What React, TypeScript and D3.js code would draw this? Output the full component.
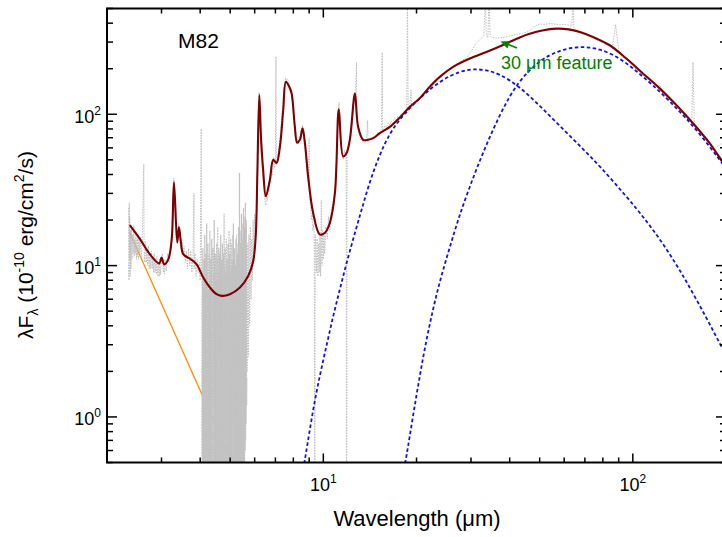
import React from 'react';
import * as d3 from 'd3';

const W = 722;
const H = 537;
const PL = 107, PR = 726, PT = 8.5, PB = 462.5;

// ---- axis ticks ----
const xTickMajor = [10, 100];
const xTickExp = ['1', '2'];
const xTickMinor = [2, 3, 4, 5, 6, 7, 8, 9, 20, 30, 40, 50, 60, 70, 80, 90, 200];
const yTickMajor = [1, 10, 100];
const yTickExp = ['0', '1', '2'];
const yTickMinor = [0.5, 0.6, 0.7, 0.8, 0.9, 2, 3, 4, 5, 6, 7, 8, 9, 20, 30, 40, 50, 60, 70, 80, 90, 200, 300, 400, 500];

// ---- model: total fit (dark red) [wavelength um, lambda F_lambda] ----
const totalModel: [number, number][] = [
  [2.37, 18.5], [2.56, 14.9], [2.75, 11.9], [2.95, 10.35], [3.0, 11.3], [3.06, 10.2], [3.155, 11.0],
  [3.236, 14.9], [3.292, 35.5], [3.373, 14.2], [3.416, 17.9], [3.467, 14.2], [3.527, 11.9], [3.707, 11.1],
  [3.896, 10.2], [4.092, 8.34], [4.301, 7.17], [4.521, 6.47], [4.692, 6.31], [4.991, 6.47], [5.376, 7.17],
  [5.718, 8.55], [5.934, 10.7], [6.05, 16], [6.12, 40], [6.21, 134], [6.29, 70], [6.39, 43], [6.52, 28.7],
  [6.72, 37], [6.89, 50], [7.06, 47.6], [7.24, 61.2], [7.42, 106.7], [7.57, 164], [7.76, 152], [7.9, 137],
  [8.09, 82.9], [8.23, 65], [8.4, 67.8], [8.57, 80.9], [8.72, 64.5], [8.93, 38.9], [9.27, 22.3], [9.74, 16.07],
  [10.12, 16.5], [10.5, 19.2], [10.9, 30.2], [11.22, 107.9], [11.59, 52.6], [11.89, 55.4], [12.18, 67.8],
  [12.65, 137], [12.95, 82.9], [13.45, 67.8], [13.95, 67.8], [14.49, 69.5], [15.22, 75], [16.4, 82.5],
  [17.67, 95.3], [19.03, 112.2], [20.5, 127.4], [22.08, 152], [23.78, 176.7], [26.26, 205.7], [29.73, 233.5],
  [33.65, 258.2], [38.07, 287], [43.12, 322], [46.4, 340], [51, 358], [56.6, 368], [62, 364], [67.4, 349.5], [74.3, 324],
  [84.2, 285.8], [95.3, 233.5], [107.8, 186.2], [122.1, 148.3], [138.2, 115.1], [156.4, 87.3], [177, 64.5],
  [193.1, 50], [200, 46]
];

// ---- warm dust component (blue dashed) ----
const warmDust: [number, number][] = [
  [8.6, 0.45], [8.72, 0.518], [9.27, 1.134], [9.74, 1.878], [10.24, 2.958], [10.76, 4.66], [11.31, 6.98], [11.89, 10.46],
  [12.65, 16.5], [13.3, 23.5], [14.13, 36], [15.22, 54.5], [16.4, 75], [17.67, 93], [19.5, 116], [21.5, 140],
  [24.4, 171], [27.6, 192], [30.4, 200], [33.65, 196], [37.15, 185], [43.12, 152], [50, 114],
  [58, 84], [67.4, 62], [78.2, 45.5], [95.3, 28.7], [110.6, 19.8], [125.1, 14.0], [141.7, 9.4],
  [160.4, 6.0], [181.4, 3.75], [200, 2.55]
];

// ---- cold dust component (blue dashed) ----
const coldDust: [number, number][] = [
  [18.2, 0.45], [18.48, 0.518], [19.5, 1.024], [20.5, 1.878], [21.5, 3.2], [22.62, 5.16], [23.78, 7.9], [25.5, 12.8], [27.25, 20.2],
  [29.73, 33.4], [32.8, 56], [37.15, 100], [42.5, 165], [50, 228], [58, 266], [67.4, 282], [78.2, 272],
  [90.7, 236], [102.7, 193], [116.1, 155.9], [131.5, 122], [148.9, 94.1], [168.4, 70], [190.7, 50], [200, 44]
];

// ---- stellar power law (orange) ----
const stellar: [number, number][] = [[2.36, 16.8], [5.2, 0.45]];

// ---- observed spectrum (grey dotted) ----
const obsNIR: [number, number][] = [
  [2.35, 24], [2.355, 8], [2.36, 26], [2.365, 11], [2.37, 21], [2.375, 8.5], [2.38, 17], [2.39, 9.5], [2.40, 17.5],
  [2.41, 11], [2.42, 16], [2.43, 12], [2.44, 18.5], [2.45, 11.5], [2.46, 15], [2.47, 12], [2.48, 16.5], [2.49, 11],
  [2.50, 15], [2.51, 11.5], [2.52, 16], [2.53, 11], [2.54, 14.5], [2.55, 12], [2.56, 15.5], [2.58, 11.5],
  [2.60, 15], [2.63, 47], [2.635, 13], [2.65, 10.5], [2.66, 14.5], [2.68, 10.5], [2.69, 13], [2.71, 10], [2.72, 13.5],
  [2.74, 9.5], [2.75, 12], [2.77, 9.5], [2.78, 12.5], [2.80, 9.5], [2.81, 11.5], [2.83, 9], [2.84, 12], [2.86, 9],
  [2.87, 11], [2.89, 8.8], [2.90, 11.5], [2.92, 8.5], [2.93, 10.5], [2.95, 8.5], [2.96, 11], [2.98, 8.7], [2.99, 10],
  [3.02, 12], [3.04, 9], [3.05, 11], [3.07, 8.8], [3.08, 11], [3.11, 9.2], [3.14, 12], [3.17, 10.5], [3.20, 12.5],
  [3.22, 13], [3.25, 16], [3.27, 28], [3.29, 38], [3.31, 25],
  [3.34, 15], [3.37, 14], [3.40, 19], [3.43, 16], [3.46, 13], [3.49, 15], [3.52, 12], [3.55, 13.5], [3.58, 10.5],
  [3.61, 12.5], [3.64, 9.5], [3.67, 13], [3.70, 10], [3.73, 12.5], [3.76, 9], [3.79, 11.5], [3.82, 30], [3.825, 9.5],
  [3.85, 12], [3.88, 8.5], [3.91, 11], [3.94, 9], [3.97, 10.5], [4.0, 8], [4.03, 80], [4.04, 9]
];

const obsNoisy: [number, number][] = [
  [4.05, 0.3], [4.06, 9], [4.07, 0.2], [4.08, 13], [4.09, 0.3], [4.10, 7], [4.11, 0.25], [4.12, 11], [4.13, 0.4],
  [4.14, 16], [4.15, 0.2], [4.16, 8], [4.17, 0.3], [4.18, 12], [4.19, 0.2], [4.20, 19], [4.21, 0.3], [4.22, 9],
  [4.23, 0.25], [4.24, 14], [4.25, 0.2], [4.26, 7], [4.27, 0.35], [4.28, 12], [4.29, 0.2], [4.30, 17], [4.31, 0.3],
  [4.32, 8], [4.33, 0.2], [4.34, 11], [4.35, 0.3], [4.36, 15], [4.37, 0.25], [4.38, 7], [4.39, 0.2], [4.40, 13],
  [4.41, 0.3], [4.42, 9], [4.43, 0.2], [4.44, 20], [4.45, 0.3], [4.46, 10], [4.47, 0.25], [4.48, 12], [4.49, 0.2],
  [4.50, 8], [4.51, 0.3], [4.52, 14], [4.53, 0.2], [4.54, 11], [4.55, 0.3], [4.56, 18], [4.57, 0.25], [4.58, 9],
  [4.59, 0.2], [4.60, 13], [4.61, 0.3], [4.62, 7], [4.63, 0.2], [4.64, 12], [4.65, 0.3], [4.66, 16], [4.67, 0.25],
  [4.68, 9], [4.69, 0.2], [4.70, 11], [4.71, 0.3], [4.72, 14], [4.73, 0.2], [4.74, 8], [4.75, 0.3], [4.76, 12],
  [4.77, 0.25], [4.78, 22], [4.79, 0.2], [4.80, 10], [4.81, 0.3], [4.82, 13], [4.83, 0.2], [4.84, 9], [4.85, 0.3],
  [4.86, 15], [4.87, 0.25], [4.88, 11], [4.89, 0.2], [4.90, 8], [4.91, 0.3], [4.92, 14], [4.93, 0.2], [4.94, 10],
  [4.95, 0.3], [4.96, 17], [4.97, 0.25], [4.98, 12], [4.99, 0.2], [5.00, 9], [5.01, 0.3], [5.02, 15], [5.03, 0.25],
  [5.04, 14], [5.05, 0.3], [5.06, 10], [5.07, 0.2], [5.08, 11], [5.09, 0.3], [5.10, 16], [5.11, 0.25], [5.12, 19],
  [5.13, 0.2], [5.14, 12], [5.15, 0.3], [5.16, 13], [5.17, 0.25], [5.18, 9], [5.19, 0.3], [5.20, 10], [5.21, 0.2],
  [5.22, 15], [5.23, 0.3], [5.24, 16], [5.25, 0.25], [5.26, 11], [5.27, 0.3], [5.28, 12], [5.29, 0.2], [5.30, 14],
  [5.31, 0.3], [5.32, 18], [5.33, 0.25], [5.34, 13], [5.35, 0.3], [5.36, 41], [5.37, 0.25], [5.38, 12], [5.39, 0.3],
  [5.40, 14], [5.41, 0.2], [5.42, 17], [5.43, 0.3], [5.44, 22], [5.45, 0.3], [5.46, 13], [5.47, 0.35], [5.48, 15],
  [5.49, 0.3], [5.50, 19], [5.51, 0.35], [5.52, 24], [5.53, 0.4], [5.54, 16], [5.55, 0.45], [5.56, 18], [5.57, 0.5],
  [5.58, 21], [5.59, 0.6], [5.60, 26], [5.61, 0.7], [5.62, 17], [5.63, 0.9], [5.64, 20], [5.65, 1.2], [5.66, 1.8]
];

const obsMIR: [number, number][] = [
  [5.68, 2], [5.70, 14], [5.72, 2.5], [5.75, 16], [5.78, 4], [5.81, 18], [5.84, 6], [5.87, 15], [5.90, 8], [5.93, 20],
  [5.96, 10], [6.0, 22], [6.04, 14], [6.08, 25], [6.12, 40], [6.16, 90], [6.20, 140], [6.24, 100], [6.28, 60],
  [6.32, 50], [6.36, 40], [6.40, 36], [6.44, 30], [6.48, 27], [6.52, 25], [6.56, 29], [6.60, 27], [6.64, 33],
  [6.68, 31], [6.72, 38], [6.76, 35], [6.80, 42], [6.85, 40], [6.90, 52], [6.95, 44], [7.0, 50], [7.03, 240],
  [7.05, 46], [7.10, 52], [7.15, 55], [7.20, 62], [7.25, 70], [7.30, 85], [7.35, 100], [7.40, 115], [7.45, 140],
  [7.50, 160], [7.55, 175], [7.60, 165], [7.65, 170], [7.70, 155], [7.75, 160], [7.80, 145], [7.85, 150], [7.90, 130],
  [7.95, 120], [8.0, 100], [8.05, 90], [8.10, 75], [8.15, 70], [8.20, 64], [8.25, 68], [8.30, 63], [8.35, 70],
  [8.40, 68], [8.45, 78], [8.50, 75], [8.55, 85], [8.60, 80], [8.65, 75], [8.70, 62], [8.75, 58], [8.80, 48],
  [8.85, 45], [8.90, 37], [8.95, 35], [9.0, 70], [9.02, 30], [9.05, 26], [9.10, 25], [9.15, 20], [9.20, 22],
  [9.25, 17], [9.30, 19], [9.35, 14], [9.39, 0.1], [9.41, 16], [9.45, 13], [9.50, 9], [9.55, 15], [9.60, 8.5],
  [9.65, 14], [9.70, 9], [9.75, 16], [9.80, 8.5], [9.85, 27], [9.87, 14], [9.90, 10], [9.95, 17], [10.0, 11],
  [10.05, 16], [10.1, 12], [10.2, 18], [10.3, 15], [10.4, 21], [10.5, 17], [10.6, 23], [10.7, 25], [10.8, 27],
  [10.9, 30], [11.0, 42], [11.1, 75], [11.2, 115], [11.25, 120], [11.3, 100], [11.4, 70], [11.5, 55], [11.6, 50],
  [11.7, 58], [11.8, 54], [11.85, 56], [11.9, 0.1], [11.92, 58], [12.0, 62], [12.1, 66], [12.2, 70], [12.3, 78],
  [12.4, 90], [12.5, 115], [12.6, 140], [12.7, 130], [12.8, 220], [12.82, 100], [12.9, 85], [13.0, 75], [13.1, 72],
  [13.2, 68], [13.3, 70], [13.4, 66], [13.5, 69], [13.6, 65], [13.8, 68], [13.9, 91], [13.95, 66], [14.2, 70],
  [14.4, 68], [14.6, 72], [14.8, 70], [15.0, 76], [15.2, 74], [15.4, 80], [15.5, 256], [15.55, 78], [15.8, 84],
  [16.0, 82], [16.2, 88], [16.4, 85], [16.6, 90]
];

const obsFIR: [number, number][] = [
  [16.6, 90], [16.8, 87], [17.0, 95], [17.2, 90], [17.4, 97], [17.6, 93], [17.8, 100], [18.0, 98], [18.3, 105],
  [18.6, 100], [18.7, 600], [18.8, 104], [19.0, 110], [19.2, 145], [19.3, 108], [19.6, 117], [20.0, 124],
  [20.5, 130], [21, 138], [21.5, 146], [22, 152], [23, 168], [24, 180], [25, 192], [26, 205], [27, 215], [28, 226],
  [29, 236], [30, 260], [31, 290], [32, 310], [33, 330], [33.4, 600], [33.6, 340], [34, 320], [34.3, 600],
  [34.6, 330], [35, 322], [36, 318], [37, 320], [38, 322], [39, 325], [40, 330], [42, 336], [44, 342], [46, 352],
  [48, 380], [50, 395], [52, 392], [54, 398], [56, 395], [58, 390], [60, 392], [62, 388], [63.5, 380], [64, 600],
  [64.5, 375], [66, 360], [70, 345], [74, 325], [78, 305], [82, 290], [86, 280], [88, 390], [90, 265], [95, 235],
  [100, 208], [105, 190], [110, 175], [115, 162], [120, 152], [122, 156], [126, 140], [130, 130], [135, 120],
  [140, 112], [145, 104], [150, 96], [155, 90], [156.5, 220], [158, 86], [165, 78], [170, 72], [175, 67],
  [180, 63], [185, 60], [190, 62], [195, 65], [200, 58]
];

const obsSegments = [obsNIR, obsMIR, obsFIR];

export default function App() {
  const x = d3.scaleLog().domain([2, 200]).range([PL, PR]);
  const y = d3.scaleLog().domain([0.5, 500]).range([PB, PT]);

  const lin = d3.line<[number, number]>().x(d => x(d[0])).y(d => y(d[1]));
  const peaky = d3.line<[number, number]>().x(d => x(d[0])).y(d => y(d[1])).curve(d3.curveCatmullRom.alpha(0.5));
  const smooth = d3.line<[number, number]>().x(d => x(d[0])).y(d => y(d[1])).curve(d3.curveBasis);

  const font = '"Liberation Sans", Arial, Helvetica, sans-serif';

  // annotation arrow
  const ax1 = 517, ay1 = 48, ax2 = 500.5, ay2 = 41.5;
  const ang = Math.atan2(ay2 - ay1, ax2 - ax1);
  const hl = 9, hw = 4;
  const bx = ax2 - hl * Math.cos(ang), by = ay2 - hl * Math.sin(ang);
  const head = `M${ax2},${ay2} L${bx + hw * Math.sin(ang)},${by - hw * Math.cos(ang)} L${bx - hw * Math.sin(ang)},${by + hw * Math.cos(ang)} Z`;

  return (
    <svg width={W} height={H} style={{ position: 'absolute', left: 0, top: 0, background: '#fff' }} fontFamily={font}>
      <defs>
        <clipPath id="plotclip">
          <rect x={PL} y={PT} width={PR - PL} height={PB - PT} />
        </clipPath>
      </defs>
      <rect x={0} y={0} width={W} height={H} fill="#fff" />
      <g clipPath="url(#plotclip)">
        <path d={lin(stellar) || ''} fill="none" stroke="#ff8c00" strokeWidth={1.3} />
        {obsSegments.map((seg, i) => (
          <path key={i} d={lin(seg) || ''} fill="none" stroke="#bdbdbd" strokeWidth={1} strokeDasharray="1.5 1.2" />
        ))}
        <path d={lin(obsNoisy) || ''} fill="none" stroke="#c2c2c2" strokeWidth={1.2} strokeDasharray="2 0.8" />
        <path d={smooth(warmDust) || ''} fill="none" stroke="#1010f0" strokeWidth={1.8} strokeDasharray="3.5 2.5" />
        <path d={smooth(coldDust) || ''} fill="none" stroke="#1010f0" strokeWidth={1.8} strokeDasharray="3.5 2.5" />
        <path d={peaky(totalModel) || ''} fill="none" stroke="#7f0000" strokeWidth={2.1} />
      </g>

      {/* frame */}
      <rect x={PL} y={PT} width={PR - PL} height={PB - PT} fill="none" stroke="#000" strokeWidth={2} />

      {/* x ticks */}
      {xTickMinor.map(v => (
        <g key={'xm' + v}>
          <line x1={x(v)} x2={x(v)} y1={PB} y2={PB - 5} stroke="#000" strokeWidth={1.5} />
          <line x1={x(v)} x2={x(v)} y1={PT} y2={PT + 5} stroke="#000" strokeWidth={1.5} />
        </g>
      ))}
      {xTickMajor.map((v, i) => (
        <g key={'xM' + v}>
          <line x1={x(v)} x2={x(v)} y1={PB} y2={PB - 9} stroke="#000" strokeWidth={1.5} />
          <line x1={x(v)} x2={x(v)} y1={PT} y2={PT + 9} stroke="#000" strokeWidth={1.5} />
          <text x={x(v)} y={491} textAnchor="middle" fontSize={18} fill="#000">
            <tspan>10</tspan>
            <tspan dy={-8} fontSize={12}>{xTickExp[i]}</tspan>
          </text>
        </g>
      ))}

      {/* y ticks */}
      {yTickMinor.map(v => (
        <g key={'ym' + v}>
          <line x1={PL} x2={PL + 6} y1={y(v)} y2={y(v)} stroke="#000" strokeWidth={1.5} />
          <line x1={PR} x2={PR - 6} y1={y(v)} y2={y(v)} stroke="#000" strokeWidth={1.5} />
        </g>
      ))}
      {yTickMajor.map((v, i) => (
        <g key={'yM' + v}>
          <line x1={PL} x2={PL + 10} y1={y(v)} y2={y(v)} stroke="#000" strokeWidth={1.5} />
          <line x1={PR} x2={PR - 10} y1={y(v)} y2={y(v)} stroke="#000" strokeWidth={1.5} />
          <text x={101} y={y(v) + 8.5} textAnchor="end" fontSize={18} fill="#000">
            <tspan>10</tspan>
            <tspan dy={-8} fontSize={12}>{yTickExp[i]}</tspan>
          </text>
        </g>
      ))}

      {/* axis titles */}
      <text x={417} y={526} textAnchor="middle" fontSize={22} fill="#000">Wavelength (μm)</text>
      <text transform="translate(33,245) rotate(-90)" textAnchor="middle" fontSize={21} fill="#000">
        <tspan>λF</tspan>
        <tspan dy={5} fontSize={14}>λ</tspan>
        <tspan dy={-5}> (10</tspan>
        <tspan dy={-9} fontSize={14}>-10</tspan>
        <tspan dy={9}> erg/cm</tspan>
        <tspan dy={-9} fontSize={14}>2</tspan>
        <tspan dy={9}>/s)</tspan>
      </text>

      {/* labels */}
      <text x={178} y={48} fontSize={21} fill="#000">M82</text>
      <line x1={ax1} y1={ay1} x2={bx} y2={by} stroke="#008000" strokeWidth={1.5} />
      <path d={head} fill="#008000" />
      <text x={501} y={68.5} fontSize={18} fill="#008000">30 μm feature</text>
    </svg>
  );
}
